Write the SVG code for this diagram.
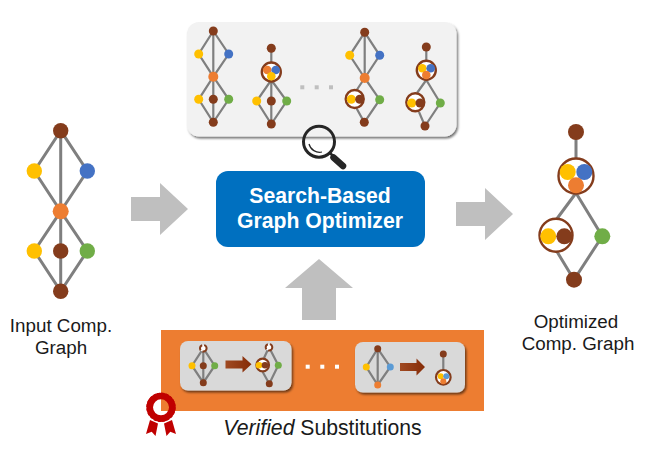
<svg xmlns="http://www.w3.org/2000/svg" width="657" height="454" viewBox="0 0 657 454">
<style>
.e{stroke:#7f7f7f;stroke-width:3;fill:none}
.e2{stroke:#7f7f7f;stroke-width:2.200;fill:none}
.br{fill:#843c1c}.ye{fill:#ffc000}.bl{fill:#4472c4}.or{fill:#ed7d31}.gr{fill:#70ad47}.lb{fill:#5b9bd5}
.ring{fill:#fff;stroke:#843c1c}
.ar{fill:#bfbfbf}
.t{font-family:"Liberation Sans",Arial,sans-serif;fill:#1a1a1a;text-anchor:middle}
.w{font-family:"Liberation Sans",Arial,sans-serif;fill:#fff;font-weight:bold;font-size:21.200px;text-anchor:middle}
</style>
<defs>
<filter id="sh" x="-10%" y="-10%" width="120%" height="125%"><feDropShadow dx="1.500" dy="2" stdDeviation="1.200" flood-color="#000" flood-opacity="0.550"/></filter>
<linearGradient id="ba" x1="0" x2="1" y1="0" y2="0"><stop offset="0" stop-color="#a04a22"/><stop offset="1" stop-color="#852c08"/></linearGradient>
</defs>
<rect width="657" height="454" fill="#fff"/>

<g id="search-panel">
<rect x="187" y="22" width="269.500" height="114.500" rx="12" fill="#f2f2f2" filter="url(#sh)"/>
<g id="candidate-1">
<path class="e2" d="M213.300 31V122.300M213.300 31L198.700 54L213.300 76.700L228.700 54L213.300 31M213.300 76.700L198.700 99.300L213.300 122.300L228.700 99.300L213.300 76.700"/>
<circle cx="213.300" cy="31" r="4.500" class="br"/>
<circle cx="198.700" cy="54" r="4.500" class="ye"/><circle cx="228.700" cy="54" r="4.500" class="bl"/>
<circle cx="213.300" cy="76.700" r="5" class="or"/>
<circle cx="198.700" cy="99.300" r="4.500" class="ye"/><circle cx="213.300" cy="99.300" r="4.500" class="br"/><circle cx="228.700" cy="99.300" r="4.500" class="gr"/>
<circle cx="213.300" cy="122.300" r="4.500" class="br"/>
</g>
<g id="candidate-2">
<path class="e2" d="M271.300 48.300V124M271.300 80L256.700 101L271.300 124L286.700 101L271.300 80"/>
<circle cx="271.300" cy="48.300" r="4.500" class="br"/>
<circle cx="271.300" cy="72" r="9.500" class="ring" stroke-width="2.400"/>
<circle cx="267.300" cy="70" r="4.300" class="or"/><circle cx="275.700" cy="70" r="4.300" class="bl"/><circle cx="271.300" cy="76.300" r="4.300" class="ye"/>
<circle cx="256.700" cy="101" r="4.500" class="ye"/><circle cx="271.300" cy="101" r="4.500" class="br"/><circle cx="286.700" cy="101" r="4.500" class="gr"/>
<circle cx="271.300" cy="124" r="4.500" class="br"/>
</g>
<g id="panel-dots" fill="#bfbfbf"><rect x="300.300" y="85.300" width="4" height="4"/><rect x="314.700" y="85.300" width="4" height="4"/><rect x="329" y="85.300" width="4" height="4"/></g>
<g id="candidate-3">
<path class="e2" d="M364.700 32.300V78M364.700 32.300L349.700 55.300L364.700 78L379.700 55.300L364.700 32.300M364.700 78L354.700 93M364.700 78L379.700 99.700L364.300 122.300L354.700 105"/>
<circle cx="364.700" cy="32.300" r="4.500" class="br"/>
<circle cx="349.700" cy="55.300" r="4.500" class="ye"/><circle cx="379.700" cy="55.300" r="4.500" class="bl"/>
<circle cx="364.700" cy="78" r="5" class="or"/>
<circle cx="354.700" cy="99" r="9" class="ring" stroke-width="2.400"/>
<circle cx="351.300" cy="99.300" r="4.500" class="ye"/><circle cx="359.700" cy="99.300" r="4.500" class="br"/>
<circle cx="379.700" cy="99.700" r="4.500" class="gr"/><circle cx="364.300" cy="122.300" r="4.500" class="br"/>
</g>
<g id="candidate-4">
<path class="e2" d="M426.300 47V62M426.300 80L440.300 103L425 126L419 112M426.300 80L417 93"/>
<circle cx="426.300" cy="47" r="4.500" class="br"/>
<circle cx="426.300" cy="70.300" r="9.500" class="ring" stroke-width="2.400"/>
<circle cx="422.300" cy="68.300" r="4.300" class="ye"/><circle cx="430.700" cy="68.300" r="4.300" class="bl"/><circle cx="426.300" cy="75" r="4.300" class="or"/>
<circle cx="415.300" cy="102.300" r="9" class="ring" stroke-width="2.400"/>
<circle cx="411.700" cy="103" r="4.500" class="ye"/><circle cx="420" cy="103" r="4.500" class="br"/>
<circle cx="440.300" cy="103" r="4.500" class="gr"/><circle cx="425" cy="126" r="4.500" class="br"/>
</g>
</g>

<g id="magnifier">
<circle cx="319" cy="141.700" r="15.500" fill="none" stroke="#262626" stroke-width="3"/>
<path d="M309 144A11 11 0 0 0 322 152" fill="none" stroke="#262626" stroke-width="1.200"/>
<path d="M333.500 157.500L343 166" stroke="#262626" stroke-width="6.500" stroke-linecap="round"/>
<path d="M330 153L334 157" stroke="#262626" stroke-width="2.500"/>
</g>

<g id="connectors">
<path class="ar" d="M131 197H160V183L188 209L160 235V221H131Z"/>
<path class="ar" d="M456 202H485V188L513 214L485 240V226H456Z"/>
<path class="ar" d="M302 320V288H285L319 259L353 288H336V320Z"/>
</g>

<g id="input-graph">
<path class="e" d="M60.700 130.700V291.300M60.700 130.700L34.300 171L60.700 211.300L87.300 171L60.700 130.700M60.700 211.300L34.300 251L60.700 291.300L87.300 251L60.700 211.300"/>
<circle cx="60.700" cy="130.700" r="7.700" class="br"/>
<circle cx="34.300" cy="171" r="7.700" class="ye"/><circle cx="87.300" cy="171" r="7.700" class="bl"/>
<circle cx="60.700" cy="211.300" r="8" class="or"/>
<circle cx="34.300" cy="251" r="7.700" class="ye"/><circle cx="60.700" cy="251" r="7.700" class="br"/><circle cx="87.300" cy="251" r="7.700" class="gr"/>
<circle cx="60.700" cy="291.300" r="7.700" class="br"/>
<text class="t" font-size="18.800" x="61" y="332">Input Comp.</text>
<text class="t" font-size="18.800" x="61" y="354">Graph</text>
</g>

<g id="optimizer">
<rect x="216" y="171" width="209" height="76" rx="12" fill="#0070c0"/>
<text class="w" x="320" y="203">Search-Based</text>
<text class="w" x="320" y="228">Graph Optimizer</text>
</g>

<g id="optimized-graph">
<path class="e" d="M576 132V160M576 193L602.300 236.300L574 279.700L556 250M576 193L556 220"/>
<circle cx="576" cy="132" r="8" class="br"/>
<circle cx="576" cy="176" r="17.500" class="ring" stroke-width="2.400"/>
<circle cx="567.700" cy="172" r="8" class="ye"/><circle cx="584.300" cy="172" r="8" class="bl"/><circle cx="576" cy="185.300" r="8" class="or"/>
<circle cx="556" cy="235.300" r="16.500" class="ring" stroke-width="2.400"/>
<circle cx="548.300" cy="236.300" r="8" class="ye"/><circle cx="564.300" cy="236.300" r="8" class="br"/>
<circle cx="602.300" cy="236.300" r="8" class="gr"/><circle cx="574" cy="279.700" r="8" class="br"/>
<text class="t" font-size="18.800" x="576" y="328">Optimized</text>
<text class="t" font-size="18.800" x="578" y="350">Comp. Graph</text>
</g>

<g id="substitutions">
<rect x="161" y="330" width="323" height="81" fill="#ed7d31"/>
<g id="sub-1">
<rect x="180" y="341" width="111.500" height="49.500" rx="8" fill="#d9d9d9" filter="url(#sh)"/>
<path class="e2" d="M203.300 352V382.700M203.300 348.300L192 365.700L203.300 382.700L214.700 365.700L203.300 348.300"/>
<circle cx="203.300" cy="348.300" r="3.300" fill="#fff" stroke="#843c1c" stroke-width="2" stroke-dasharray="6 2"/>
<circle cx="192" cy="365.700" r="3.500" class="ye"/><circle cx="203.300" cy="365.700" r="3.500" class="br"/><circle cx="214.700" cy="365.700" r="3.500" class="gr"/><circle cx="203.300" cy="382.700" r="3.500" class="br"/>
<path fill="url(#ba)" d="M225.500 360.500H242.500V356L251.500 364.300L242.500 372.500V368.500H225.500Z"/>
<path class="e2" d="M269 347.300L278.300 365.300L269.300 383.700L262.700 372M269 347.300L264 358"/>
<circle cx="269" cy="347.300" r="3.300" fill="#fff" stroke="#843c1c" stroke-width="2" stroke-dasharray="6 2"/>
<circle cx="262.700" cy="365" r="6.300" class="ring" stroke-width="2.200"/>
<circle cx="259" cy="365.300" r="3.300" class="ye"/><circle cx="265" cy="365.300" r="3.300" class="br"/>
<circle cx="278.300" cy="365.300" r="3.500" class="gr"/><circle cx="269.300" cy="383.700" r="3.500" class="br"/>
</g>
<g id="sub-dots" fill="#fff"><rect x="305.700" y="364.700" width="4" height="4"/><rect x="320.300" y="364.700" width="4" height="4"/><rect x="335" y="364.700" width="4" height="4"/></g>
<g id="sub-2">
<rect x="355" y="342" width="110" height="50.500" rx="8" fill="#d9d9d9" filter="url(#sh)"/>
<path class="e2" d="M377.700 348.700V385M377.700 348.700L366.300 367L377.700 385L390.300 367L377.700 348.700"/>
<circle cx="377.700" cy="348.700" r="3.500" class="br"/>
<circle cx="366.300" cy="367" r="3.500" class="ye"/><circle cx="390.300" cy="367" r="3.500" class="lb"/><circle cx="377.700" cy="385" r="3.500" class="or"/>
<path fill="url(#ba)" d="M400 363H416.500V358.500L425 367L416.500 375.500V371H400Z"/>
<path class="e2" d="M443.300 354V370"/>
<circle cx="443.300" cy="354" r="3.500" class="br"/>
<circle cx="443.300" cy="377.300" r="7.300" class="ring" stroke-width="2.200"/>
<circle cx="440.700" cy="376.300" r="3" class="ye"/><circle cx="446.300" cy="376.300" r="3" class="lb"/><circle cx="443.300" cy="381.300" r="3" class="or"/>
</g>
<text class="t" font-size="21.200" x="322.500" y="435"><tspan font-style="italic">Verified</tspan> Substitutions</text>
</g>

<g id="badge" fill="#c00000">
<path d="M150 420L158 423.500L155.500 436L151.700 431.700L146 434Z"/>
<path d="M172 420L164 423.500L166.500 436L170.300 431.700L176 434Z"/>
<circle cx="161" cy="407.300" r="11.300" fill="none" stroke="#c00000" stroke-width="6.600"/>
<circle cx="161" cy="407.300" r="13.700" fill="none" stroke="#c00000" stroke-width="2" stroke-dasharray="3 1.300"/>
</g>
</svg>
